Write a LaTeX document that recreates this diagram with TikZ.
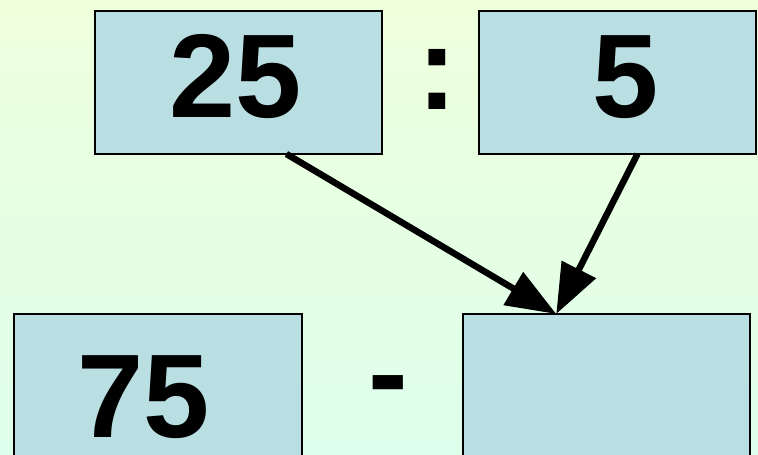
\documentclass[tikz,border=0pt]{standalone}
\usepackage{fontspec}
\setmainfont{Liberation Sans}
\usetikzlibrary{arrows.meta,calc}
\definecolor{bgtop}{RGB}{238,255,220}
\definecolor{bgbot}{RGB}{222,255,236}
\definecolor{boxfill}{RGB}{185,223,227}
\tikzset{
 numbox/.style={draw=black, line width=2pt, fill=boxfill, anchor=north west, inner sep=0pt, outer sep=0pt},
 big/.style={font=\fontsize{119}{119}\bfseries\selectfont, inner sep=0pt, text depth=0pt, anchor=base},
 arr/.style={line width=6.5pt, -{Triangle[length=50pt,width=37pt]}},
}
\begin{document}
\begin{tikzpicture}[x=1pt,y=-1pt]
\useasboundingbox (0,0) rectangle (758,455);
\clip (0,0) rectangle (758,455);
\shade[top color=bgtop, bottom color=bgbot] (0,0) rectangle (758,455);
\node[numbox, minimum width=287pt, minimum height=143pt] (b1) at (95,11) {};
\node[numbox, minimum width=277pt, minimum height=143pt] (b2) at (479,11) {};
\node[numbox, minimum width=288pt, minimum height=200pt] (b3) at (14,314) {};
\node[numbox, minimum width=287pt, minimum height=200pt] (b4) at (463,314) {};
\node[big] (t25) at (235.5,117) {25};
\node[big] (t5) at (626,117) {5};
\node[big] (colon) at (437,109) {:};
\node[big] (t75) at (144,437) {75};
\node[big] (minus) at (388,413) {-};
\coordinate (s1) at ($(b1.south west)!0.667!(b1.south east)$);
\coordinate (s2) at ($(b2.south west)!0.572!(b2.south east)$);
\coordinate (e) at ($(b4.north west)!0.325!(b4.north east)$);
\draw[arr] (s1) -- (e);
\draw[arr] (s2) -- (e);
\end{tikzpicture}
\end{document}
